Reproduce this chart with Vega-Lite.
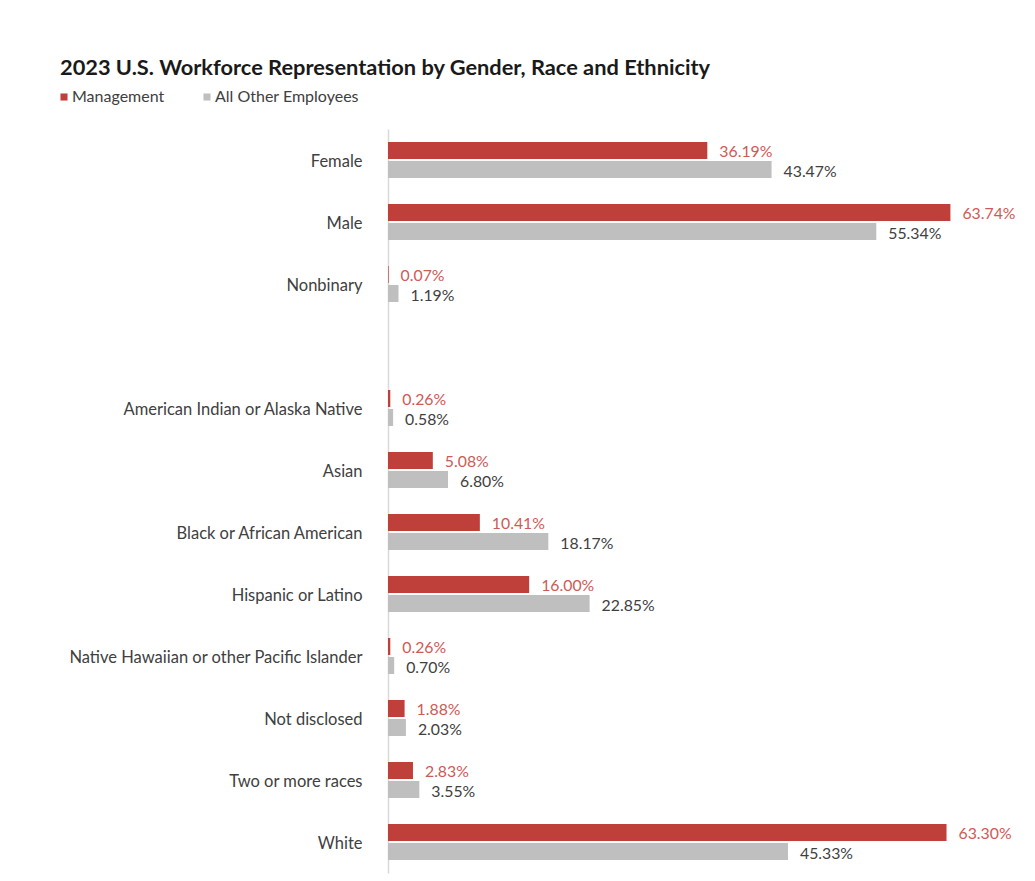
{
  "$schema": "https://vega.github.io/schema/vega-lite/v6.json",
  "width": 600,
  "height": 744,
  "autosize": {"type": "none"},
  "padding": {"left": 388, "top": 129, "right": 47, "bottom": 8},
  "background": "white",
  "config": {
    "view": {"stroke": null},
    "font": "Lato"
  },
  "title": {
    "text": "2023 U.S. Workforce Representation by Gender, Race and Ethnicity",
    "anchor": "start",
    "frame": "group",
    "dx": -328,
    "offset": 9,
    "fontSize": 21.8,
    "fontWeight": "bold",
    "color": "#1a1a1a",
    "font": "Lato"
  },
  "data": {
    "values": [
      {"category": "Female", "group": "Management", "value": 0.3619},
      {"category": "Female", "group": "All Other Employees", "value": 0.4347},
      {"category": "Male", "group": "Management", "value": 0.6374},
      {"category": "Male", "group": "All Other Employees", "value": 0.5534},
      {"category": "Nonbinary", "group": "Management", "value": 0.0007},
      {"category": "Nonbinary", "group": "All Other Employees", "value": 0.0119},
      {"category": "American Indian or Alaska Native", "group": "Management", "value": 0.0026},
      {"category": "American Indian or Alaska Native", "group": "All Other Employees", "value": 0.0058},
      {"category": "Asian", "group": "Management", "value": 0.0508},
      {"category": "Asian", "group": "All Other Employees", "value": 0.068},
      {"category": "Black or African American", "group": "Management", "value": 0.1041},
      {"category": "Black or African American", "group": "All Other Employees", "value": 0.1817},
      {"category": "Hispanic or Latino", "group": "Management", "value": 0.16},
      {"category": "Hispanic or Latino", "group": "All Other Employees", "value": 0.2285},
      {"category": "Native Hawaiian or other Pacific Islander", "group": "Management", "value": 0.0026},
      {"category": "Native Hawaiian or other Pacific Islander", "group": "All Other Employees", "value": 0.007},
      {"category": "Not disclosed", "group": "Management", "value": 0.0188},
      {"category": "Not disclosed", "group": "All Other Employees", "value": 0.0203},
      {"category": "Two or more races", "group": "Management", "value": 0.0283},
      {"category": "Two or more races", "group": "All Other Employees", "value": 0.0355},
      {"category": "White", "group": "Management", "value": 0.633},
      {"category": "White", "group": "All Other Employees", "value": 0.4533}
    ]
  },
  "encoding": {
    "y": {
      "field": "category",
      "type": "nominal",
      "scale": {
        "domain": ["Female", "Male", "Nonbinary", " ", "American Indian or Alaska Native", "Asian", "Black or African American", "Hispanic or Latino", "Native Hawaiian or other Pacific Islander", "Not disclosed", "Two or more races", "White"],
        "paddingInner": 0,
        "paddingOuter": 0
      },
      "axis": {
        "title": null,
        "ticks": false,
        "labelPadding": 26,
        "labelFontSize": 16.5,
        "labelColor": "#404040",
        "labelFont": "Lato",
        "labelOffset": 1.5,
        "domainColor": "#D9D9D9",
        "domainWidth": 1.5,
        "labelLimit": 400
      }
    },
    "yOffset": {
      "field": "group",
      "type": "nominal",
      "scale": {
        "domain": ["Management", "All Other Employees"],
        "paddingInner": 0.105,
        "paddingOuter": 0.684
      }
    },
    "x": {
      "field": "value",
      "type": "quantitative",
      "scale": {"domain": [0, 0.68], "nice": false},
      "axis": null
    }
  },
  "layer": [
    {
      "mark": {"type": "bar"},
      "encoding": {
        "color": {
          "field": "group",
          "type": "nominal",
          "scale": {
            "domain": ["Management", "All Other Employees"],
            "range": ["#BF403A", "#BFBFBF"]
          },
          "legend": {
            "title": null,
            "orient": "none",
            "direction": "horizontal",
            "legendX": -332,
            "legendY": -40,
            "symbolType": "square",
            "symbolSize": 50,
            "symbolOffset": 0,
            "labelFontSize": 16,
            "labelColor": "#404040",
            "labelFont": "Lato",
            "labelOffset": 0,
            "columnPadding": 34
          }
        }
      }
    },
    {
      "mark": {"type": "text", "align": "left", "baseline": "middle", "dx": 12, "dy": 2, "fontSize": 15.8, "font": "Lato"},
      "encoding": {
        "text": {"field": "value", "type": "quantitative", "format": ".2%"},
        "color": {
          "field": "group",
          "type": "nominal",
          "scale": {
            "domain": ["Management", "All Other Employees"],
            "range": ["#CD5A55", "#404040"]
          },
          "legend": null
        }
      }
    }
  ],
  "resolve": {"scale": {"color": "independent"}}
}
